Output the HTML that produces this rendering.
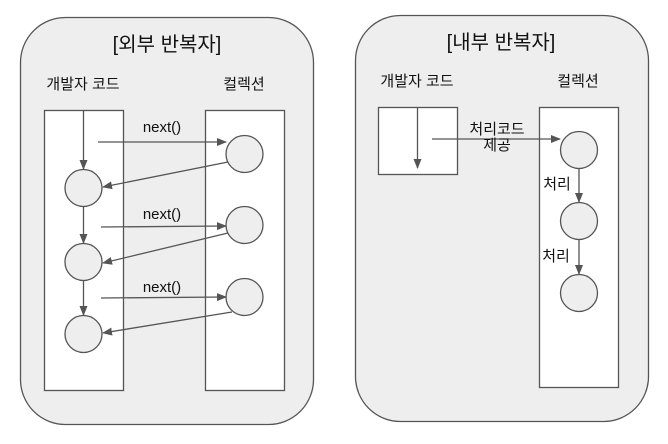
<!DOCTYPE html>
<html><head><meta charset="utf-8"><style>
html,body{margin:0;padding:0;background:#fff;width:668px;height:444px;overflow:hidden}
text{font-family:"Liberation Sans","Noto Sans CJK KR",sans-serif;fill:#111}
</style></head><body>
<svg width="668" height="444" viewBox="0 0 668 444" xmlns="http://www.w3.org/2000/svg">
<defs><marker id="a" markerWidth="10" markerHeight="10" refX="9" refY="5" orient="auto" markerUnits="userSpaceOnUse"><path d="M0,1 L10,5 L0,9 Z" fill="#555"/></marker></defs>
<g stroke="#555" stroke-width="1.3">
<rect x="20.5" y="17.5" width="293" height="407" rx="45" fill="#eee"/>
<rect x="355.5" y="15.5" width="293" height="406" rx="45" fill="#eee"/>
<rect x="44.5" y="110.5" width="79" height="280" fill="#fff"/>
<rect x="205.5" y="110.5" width="79" height="280" fill="#fff"/>
<rect x="378.5" y="107.5" width="79" height="67" fill="#fff"/>
<rect x="539.5" y="107.5" width="79" height="280" fill="#fff"/>
<g fill="#eee">
<circle cx="83.5" cy="188" r="18.5"/><circle cx="83.5" cy="262" r="18.5"/><circle cx="83.5" cy="334" r="18.5"/>
<circle cx="244.5" cy="154" r="18.5"/><circle cx="244.5" cy="225" r="18.5"/><circle cx="244.5" cy="297" r="18.5"/>
<circle cx="579" cy="150" r="18.5"/><circle cx="579" cy="221" r="18.5"/><circle cx="579" cy="293" r="18.5"/>
</g>
<g fill="none" marker-end="url(#a)">
<line x1="83.5" y1="110" x2="83.5" y2="169"/>
<line x1="83.5" y1="206" x2="83.5" y2="243"/>
<line x1="83.5" y1="280" x2="83.5" y2="315"/>
<line x1="98" y1="142" x2="226" y2="142"/>
<line x1="228" y1="162" x2="103" y2="187"/>
<line x1="101" y1="227" x2="226" y2="226"/>
<line x1="228" y1="233" x2="103" y2="263"/>
<line x1="101" y1="298" x2="226" y2="297"/>
<line x1="232" y1="312" x2="103" y2="333"/>
<line x1="417.5" y1="107" x2="417.5" y2="168"/>
<line x1="432" y1="139" x2="560" y2="139"/>
<line x1="579" y1="168" x2="579" y2="202"/>
<line x1="579" y1="239" x2="579" y2="274"/>
</g>
</g>
<text x="167" y="51" font-size="20" text-anchor="middle">[외부 반복자]</text>
<text x="501" y="49" font-size="20" text-anchor="middle">[내부 반복자]</text>
<g font-size="15">
<text x="83" y="89" text-anchor="middle">개발자 코드</text>
<text x="244" y="89" text-anchor="middle">컬렉션</text>
<text x="417" y="86" text-anchor="middle">개발자 코드</text>
<text x="578" y="86" text-anchor="middle">컬렉션</text>
<text x="162" y="132" text-anchor="middle">next()</text>
<text x="162" y="219" text-anchor="middle">next()</text>
<text x="162" y="292" text-anchor="middle">next()</text>
<text x="497" y="134" text-anchor="middle">처리코드</text>
<text x="497" y="150" text-anchor="middle">제공</text>
<text x="557" y="189" text-anchor="middle">처리</text>
<text x="556" y="261" text-anchor="middle">처리</text>
</g>
</svg>
</body></html>
